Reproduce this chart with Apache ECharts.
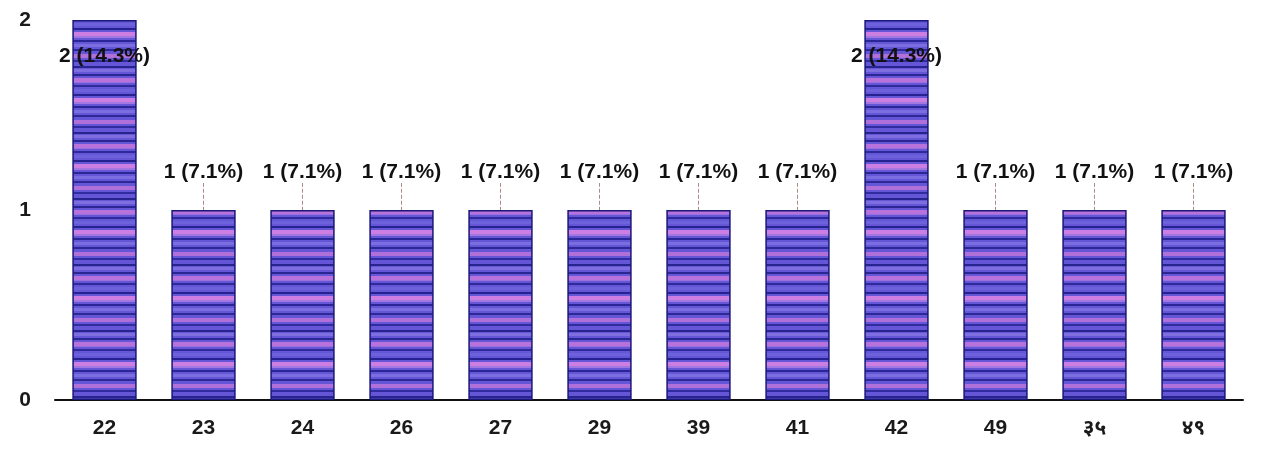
<!DOCTYPE html>
<html>
<head>
<meta charset="utf-8">
<script src="https://cdn.jsdelivr.net/npm/echarts@6/dist/echarts.min.js"></script>
<style>
html,body{margin:0;padding:0;background:#fff;}
#chart{width:1262px;height:450px;}
</style>
</head>
<body>
<div id="chart"></div>
<script>
const categories = ['22','23','24','26','27','29','39','41','42','49','३५','४९'];
const counts = [2,1,1,1,1,1,1,1,2,1,1,1];
const percents = ['14.3','7.1','7.1','7.1','7.1','7.1','7.1','7.1','14.3','7.1','7.1','7.1'];
const yTicks = [0,1,2];

// striped texture for bars
function makePattern(){
  const c = document.createElement('canvas');
  c.width = 8; c.height = 66;
  const g = c.getContext('2d');
  g.fillStyle = '#6456d6'; g.fillRect(0,0,8,66);
  const bands = [
    [0,2,'#28248e'],[3,3,'#7e6ee0'],[8,2,'#2a2694'],[12,4,'#b872dc'],[16,1,'#9a70de'],
    [19,2,'#2e2a9c'],[23,3,'#6e62dc'],[28,2,'#262290'],[32,4,'#cc7ee2'],[36,2,'#a278e0'],
    [40,2,'#2a2696'],[44,3,'#7a6ee0'],[49,2,'#2c2896'],[54,4,'#b070da'],[60,2,'#302ca0']
  ];
  bands.forEach(b=>{g.fillStyle=b[2]; g.fillRect(0,b[0],8,b[1]);});
  return c;
}

const font = 'Liberation Sans, Arial, Noto Sans, sans-serif';
const chart = echarts.init(document.getElementById('chart'), null, {renderer:'canvas'});
chart.setOption({
  animation:false,
  grid:{left:55, right:19, top:20, bottom:50},
  xAxis:{
    type:'category',
    data:categories,
    axisLine:{show:true, lineStyle:{color:'#111', width:2}},
    axisTick:{show:false},
    axisLabel:{color:'#1a1a1a', fontSize:21, fontWeight:'bold', fontFamily:font, margin:18}
  },
  yAxis:{
    type:'value',
    min:yTicks[0], max:yTicks[yTicks.length-1], interval:1,
    axisLine:{show:false},
    axisTick:{show:false},
    splitLine:{show:false},
    axisLabel:{color:'#1a1a1a', fontSize:21, fontWeight:'bold', fontFamily:font, margin:24}
  },
  series:[{
    type:'bar',
    data:counts,
    barWidth:'65%',
    itemStyle:{
      color:{image:makePattern(), repeat:'repeat'},
      borderColor:'#1a1878',
      borderWidth:1.5
    },
    label:{
      show:true,
      position:'top',
      distance:5,
      color:'#111',
      fontSize:21,
      fontWeight:'bold',
      fontFamily:font,
      formatter:p=>p.value+' ('+percents[p.dataIndex]+'%)'
    },
    labelLine:{show:true, lineStyle:{color:'#b08888', width:1, type:'dashed'}},
    labelLayout:function(params){
      return {dy: counts[params.dataIndex] >= 2 ? 52 : -22};
    }
  }]
});
</script>
</body>
</html>
